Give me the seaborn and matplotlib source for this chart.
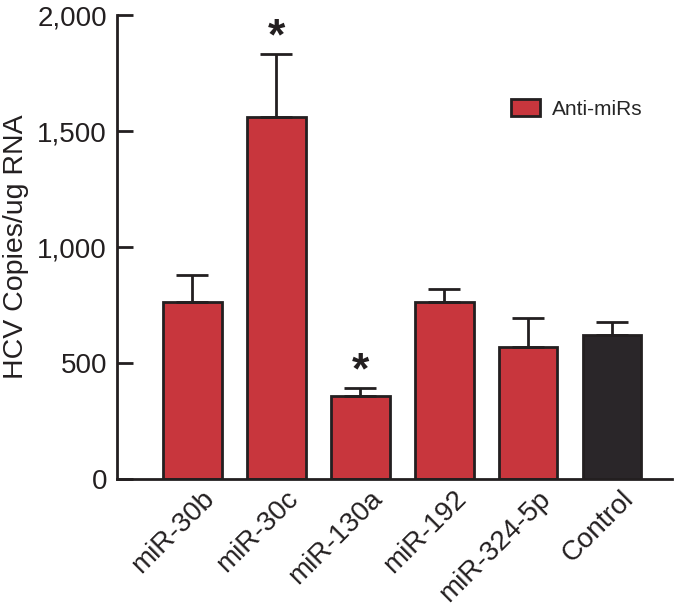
import matplotlib
matplotlib.use("Agg")
import matplotlib.pyplot as plt
import matplotlib.transforms as mtransforms
import seaborn as sns
import pandas as pd
from matplotlib.patches import Patch

# ── Data ──────────────────────────────────────────────────────────────────
groups = ["miR-30b", "miR-30c", "miR-130a", "miR-192", "miR-324-5p", "Control"]
copies = [765, 1560, 359, 765, 571, 621]
sem = [114, 272, 32, 56, 122, 55]
significant = [False, True, True, False, False, False]

RED = "#c8363d"
DARK = "#2a2629"
EDGE = "#231f20"

sns.set_theme(style="ticks")
plt.rcParams["font.family"] = ["Liberation Sans", "DejaVu Sans"]

df = pd.DataFrame({"group": groups, "copies": copies})
colors = [RED] * (len(groups) - 1) + [DARK]

fig = plt.figure(figsize=(6.79, 6.11), dpi=100)
ax = fig.add_axes([0.1719, 0.216, 0.8178, 0.759])

sns.barplot(data=df, x="group", y="copies", hue="group", palette=colors,
            saturation=1, width=0.70, edgecolor=EDGE, linewidth=2.0,
            legend=False, errorbar=None, ax=ax)

# Upper-only error bars
ax.errorbar(range(len(groups)), copies, yerr=[[0] * len(sem), sem],
            fmt="none", ecolor=EDGE, elinewidth=2.0, capsize=11.5,
            capthick=2.0, zorder=1)

# Significance stars
for i, (v, e, sig) in enumerate(zip(copies, sem, significant)):
    if sig:
        ax.annotate("*", (i, v + e), xytext=(0, -3), textcoords="offset points",
                    ha="center", va="bottom", fontsize=32, fontweight="bold",
                    color=EDGE)

ax.set_xlim(-0.903, 5.715)
ax.set_ylim(0, 2000)
ax.set_yticks([0, 500, 1000, 1500, 2000])
ax.set_yticklabels(["0", "500", "1,000", "1,500", "2,000"])
ax.set_xlabel("")
ax.set_ylabel("HCV Copies/ug RNA", fontsize=20.5, color=EDGE, labelpad=6)

ax.tick_params(axis="y", direction="in", length=11.5, width=2.0,
               labelsize=20, colors=EDGE, pad=7)
ax.tick_params(axis="x", length=0, labelsize=20, colors=EDGE, pad=5)

# rotated labels end a little right of the bar centre
shift = mtransforms.ScaledTranslation(0.09, 0, fig.dpi_scale_trans)
for lab in ax.get_xticklabels():
    lab.set_rotation(45)
    lab.set_ha("right")
    lab.set_rotation_mode("anchor")
    lab.set_transform(lab.get_transform() + shift)

for side in ["top", "right"]:
    ax.spines[side].set_visible(False)
for side in ["left", "bottom"]:
    ax.spines[side].set_linewidth(2.0)
    ax.spines[side].set_color(EDGE)

handles = [Patch(facecolor=RED, edgecolor=EDGE, linewidth=2.0, label="Anti-miRs")]
fig.legend(handles=handles, loc="center left",
           bbox_to_anchor=(511 / 679, 1 - 109 / 611), frameon=False,
           fontsize=15, handlelength=1.4, handleheight=0.85,
           handletextpad=0.55, borderpad=0, borderaxespad=0)

fig.savefig("out.png", dpi=100)
plt.close(fig)
